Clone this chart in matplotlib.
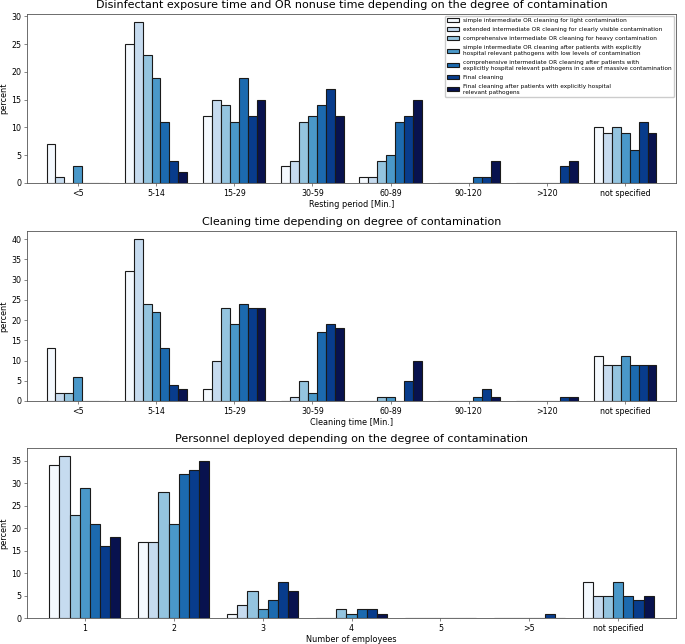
import matplotlib
matplotlib.use("Agg")
import matplotlib.pyplot as plt
import numpy as np

series_labels = [
    "simple intermediate OR cleaning for light contamination",
    "extended intermediate OR cleaning for clearly visible contamination",
    "comprehensive intermediate OR cleaning for heavy contamination",
    "simple intermediate OR cleaning after patients with explicitly\nhospital relevant pathogens with low levels of contamination",
    "comprehensive intermediate OR cleaning after patients with\nexplicitly hospital relevant pathogens in case of massive contamination",
    "Final cleaning",
    "Final cleaning after patients with explicitly hospital\nrelevant pathogens",
]
colors = ["#f4f9fe", "#c6dbef", "#94c4df", "#4a98c9", "#1c6aaf", "#083c8c", "#08124e"]

# Panel 1: resting period
rest_cats = ["<5", "5-14", "15-29", "30-59", "60-89", "90-120", ">120", "not specified"]
rest_vals = [
    [7, 25, 12, 3, 1, 0, 0, 10],
    [1, 29, 15, 4, 1, 0, 0, 9],
    [0, 23, 14, 11, 4, 0, 0, 10],
    [3, 19, 11, 12, 5, 0, 0, 9],
    [0, 11, 19, 14, 11, 1, 0, 6],
    [0, 4, 12, 17, 12, 1, 3, 11],
    [0, 2, 15, 12, 15, 4, 4, 9],
]

# Panel 2: cleaning time
clean_cats = ["<5", "5-14", "15-29", "30-59", "60-89", "90-120", ">120", "not specified"]
clean_vals = [
    [13, 32, 3, 0, 0, 0, 0, 11],
    [2, 40, 10, 1, 0, 0, 0, 9],
    [2, 24, 23, 5, 1, 0, 0, 9],
    [6, 22, 19, 2, 1, 0, 0, 11],
    [0, 13, 24, 17, 0, 1, 0, 9],
    [0, 4, 23, 19, 5, 3, 1, 9],
    [0, 3, 23, 18, 10, 1, 1, 9],
]

# Panel 3: personnel
pers_cats = ["1", "2", "3", "4", "5", ">5", "not specified"]
pers_vals = [
    [34, 17, 1, 0, 0, 0, 8],
    [36, 17, 3, 0, 0, 0, 5],
    [23, 28, 6, 2, 0, 0, 5],
    [29, 21, 2, 1, 0, 0, 8],
    [21, 32, 4, 2, 0, 0, 5],
    [16, 33, 8, 2, 0, 1, 4],
    [18, 35, 6, 1, 0, 0, 5],
]

panels = [
    ("Disinfectant exposure time and OR nonuse time depending on the degree of contamination",
     "Resting period [Min.]", rest_cats, rest_vals, True),
    ("Cleaning time depending on degree of contamination",
     "Cleaning time [Min.]", clean_cats, clean_vals, False),
    ("Personnel deployed depending on the degree of contamination",
     "Number of employees", pers_cats, pers_vals, False),
]

W, H = 685, 644
fig = plt.figure(figsize=(W / 100, H / 100), dpi=100)
boxes = [(14, 183), (231, 401), (448, 618)]
left, right = 27, 676

for (title, xlabel, cats, vals, show_leg), (top, bot) in zip(panels, boxes):
    ax = fig.add_axes([left / W, 1 - bot / H, (right - left) / W, (bot - top) / H])
    n = len(cats)
    x = np.arange(n)
    k = len(vals)
    bw = 0.8 / k
    for i, (v, c, lab) in enumerate(zip(vals, colors, series_labels)):
        ax.bar(x + (i - (k - 1) / 2) * bw, v, width=bw, color=c, edgecolor="#1a1a1a",
               linewidth=0.8, label=lab)
    ax.set_xticks(x)
    ax.set_xticklabels(cats)
    ax.set_xlim(-0.65, n - 1 + 0.65)
    ax.set_title(title, fontsize=8.0, pad=4)
    ax.set_xlabel(xlabel, fontsize=5.9, labelpad=1.5)
    ax.set_ylabel("percent", fontsize=5.9, labelpad=2)
    ax.tick_params(labelsize=5.7, length=2, width=0.5, pad=2, color="#555555")
    for s in ax.spines.values():
        s.set_linewidth(0.6)
        s.set_color("#555555")
    if show_leg:
        ax.legend(loc="upper right", fontsize=4.15, labelspacing=0.7,
                  borderaxespad=0.3, handlelength=2.0, framealpha=1.0)

fig.savefig("out.png", dpi=100)
